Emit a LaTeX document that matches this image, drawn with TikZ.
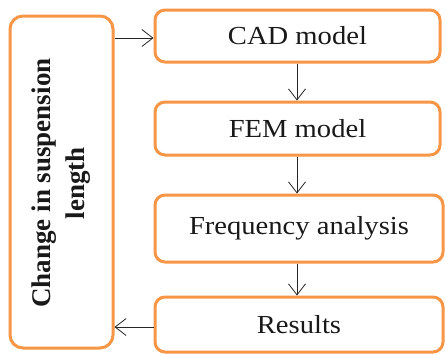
\documentclass[tikz,border=0pt]{standalone}
\usepackage{fontspec}
\setmainfont{Liberation Serif}
\newfontfamily\lblfont[FakeStretch=1.1]{Liberation Serif}
\usetikzlibrary{arrows.meta}
\definecolor{boxorange}{RGB}{247,150,70}
\tikzset{
  flowbox/.style={draw=boxorange, line width=3pt, rounded corners=10pt, fill=white, inner sep=0pt},
  conn/.style={draw=black!85, line width=0.8pt, -{Straight Barb[length=11pt,width=17pt,line width=0.8pt]}},
  lbl/.style={font=\lblfont\fontsize{26}{30}\selectfont, text=black!90}
}
\begin{document}
\begin{tikzpicture}[x=1pt,y=-1pt]
\useasboundingbox[fill=white] (0,0) rectangle (445,354);
\node[flowbox, minimum width=103pt, minimum height=332pt, rounded corners=13pt] (change) at (61.5,182) {};
\node[rotate=90, align=center, text=black!90, font=\fontsize{27}{34}\selectfont\bfseries] (changetxt) at (61,183) {Change in suspension\\length};
\node[flowbox, minimum width=285pt, minimum height=52pt] (cad) at (297.5,36) {};
\node[lbl] (cadtxt) at (cad) {CAD model};
\node[flowbox, minimum width=285pt, minimum height=53pt] (fem) at (297.5,128.5) {};
\node[lbl] (femtxt) at (fem) {FEM model};
\node[flowbox, minimum width=288pt, minimum height=67pt] (freq) at (299,228.5) {};
\node[lbl] (freqtxt) at (freq) {Frequency analysis};
\node[flowbox, minimum width=288pt, minimum height=55pt] (res) at (299,324.5) {};
\node[lbl] (restxt) at (res) {Results};
\coordinate (a1) at (change.east |- 0,38);
\coordinate (a2) at (cad.west |- 0,38);
\draw[conn] (a1) -- (a2);
\coordinate (b1) at (res.west |- 0,327);
\coordinate (b2) at (change.east |- 0,327);
\draw[conn] (b1) -- (b2);
\draw[conn] (cad.south -| 297,0) -- (fem.north -| 297,0);
\draw[conn] (fem.south -| 297,0) -- (freq.north -| 297,0);
\draw[conn] (freq.south -| 297,0) -- (res.north -| 297,0);
\end{tikzpicture}
\end{document}
